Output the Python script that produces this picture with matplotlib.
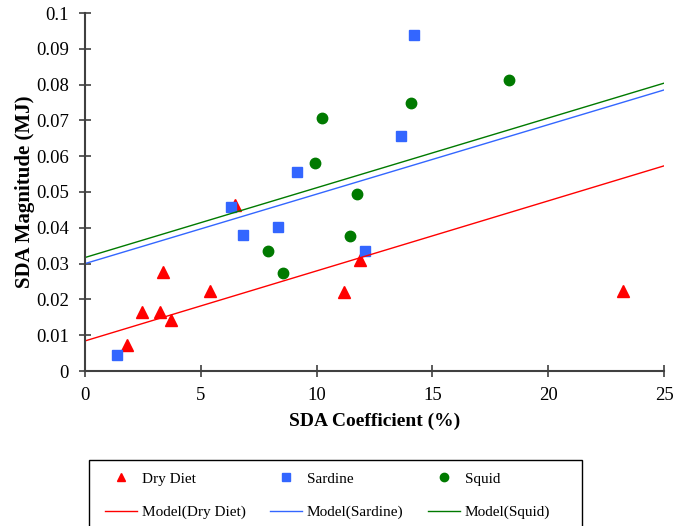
import matplotlib.pyplot as plt
import matplotlib.patches as patches
import numpy as np

# SDA coefficient (%) vs SDA magnitude (MJ), per diet
dry_x = [1.81, 2.46, 3.24, 3.37, 3.71, 5.40, 6.48, 11.18, 11.87, 23.23]
dry_y = [0.0073, 0.0165, 0.0165, 0.0277, 0.0142, 0.0223, 0.0464, 0.0221, 0.0310, 0.0223]

sardine_x = [1.40, 6.30, 6.84, 8.35, 9.14, 12.09, 13.66, 14.22]
sardine_y = [0.0044, 0.0457, 0.0381, 0.0403, 0.0555, 0.0336, 0.0656, 0.0938]

squid_x = [7.89, 8.56, 9.94, 10.22, 11.76, 11.46, 14.08, 18.32]
squid_y = [0.0334, 0.0273, 0.0580, 0.0708, 0.0494, 0.0377, 0.0750, 0.0814]

# linear model: intercept, slope
dry_model = (0.0084, 0.001956)
sardine_model = (0.0300, 0.001940)
squid_model = (0.0317, 0.001948)

x_ticks = [0, 5, 10, 15, 20, 25]
y_ticks = [0, 0.01, 0.02, 0.03, 0.04, 0.05, 0.06, 0.07, 0.08, 0.09, 0.1]
y_tick_labels = ['0', '0.01', '0.02', '0.03', '0.04', '0.05', '0.06', '0.07', '0.08', '0.09', '0.1']

red = '#FF0000'
blue = '#3366FF'
green = '#007A00'

plt.rcParams['font.family'] = ['Liberation Serif', 'DejaVu Serif']

fig = plt.figure(figsize=(6.88, 5.26), dpi=100)
ax = fig.add_axes([85 / 688, 1 - 371 / 526, (664 - 85) / 688, (371 - 13) / 526])

h1, = ax.plot(dry_x, dry_y, ls='none', marker='^', color=red, markersize=8, label='Dry Diet')
h2, = ax.plot(sardine_x, sardine_y, ls='none', marker='s', color=blue, markersize=7, label='Sardine')
h3, = ax.plot(squid_x, squid_y, ls='none', marker='o', color=green, markersize=7.5, label='Squid')

xs = np.array([0, 25])
m1, = ax.plot(xs, dry_model[0] + dry_model[1] * xs, color=red, lw=1, label='Model(Dry Diet)')
m2, = ax.plot(xs, sardine_model[0] + sardine_model[1] * xs, color=blue, lw=1, label='Model(Sardine)')
m3, = ax.plot(xs, squid_model[0] + squid_model[1] * xs, color=green, lw=1, label='Model(Squid)')

ax.set_xlim(0, 25)
ax.set_ylim(0, 0.1)
ax.set_xticks(x_ticks)
ax.set_yticks(y_ticks)
ax.set_yticklabels(y_tick_labels)
ax.tick_params(direction='inout', length=9, width=1.2, color='#404040', labelsize=13.5, pad=7)

for s in ['top', 'right']:
    ax.spines[s].set_visible(False)
for s in ['left', 'bottom']:
    ax.spines[s].set_color('#404040')
    ax.spines[s].set_linewidth(1.5)

ax.set_xlabel('SDA Coefficient (%)', fontsize=14, fontweight='bold', labelpad=6)
ax.set_ylabel('SDA Magnitude (MJ)', fontsize=15, fontweight='bold', labelpad=1)

# legend frame drawn separately (Excel-style box running off the bottom)
frame = patches.Rectangle((89 / 688, 1 - 540 / 526), (582 - 89) / 688, 80 / 526,
                          transform=fig.transFigure, fill=False, edgecolor='black', lw=1.0)
fig.patches.append(frame)

# column-wise fill, so interleave to get rows of markers then models
handles = [h1, m1, h2, m2, h3, m3]
leg = fig.legend(handles=handles, labels=[h.get_label() for h in handles], ncol=3,
                 loc='upper left', bbox_to_anchor=(105 / 688, 1 - 472 / 526),
                 bbox_transform=fig.transFigure, borderaxespad=0, borderpad=0,
                 fontsize=11, frameon=False,
                 handlelength=2.1, handletextpad=0.3, columnspacing=1.62,
                 labelspacing=1.3, markerscale=0.8)

plt.savefig('out.png', dpi=100)
